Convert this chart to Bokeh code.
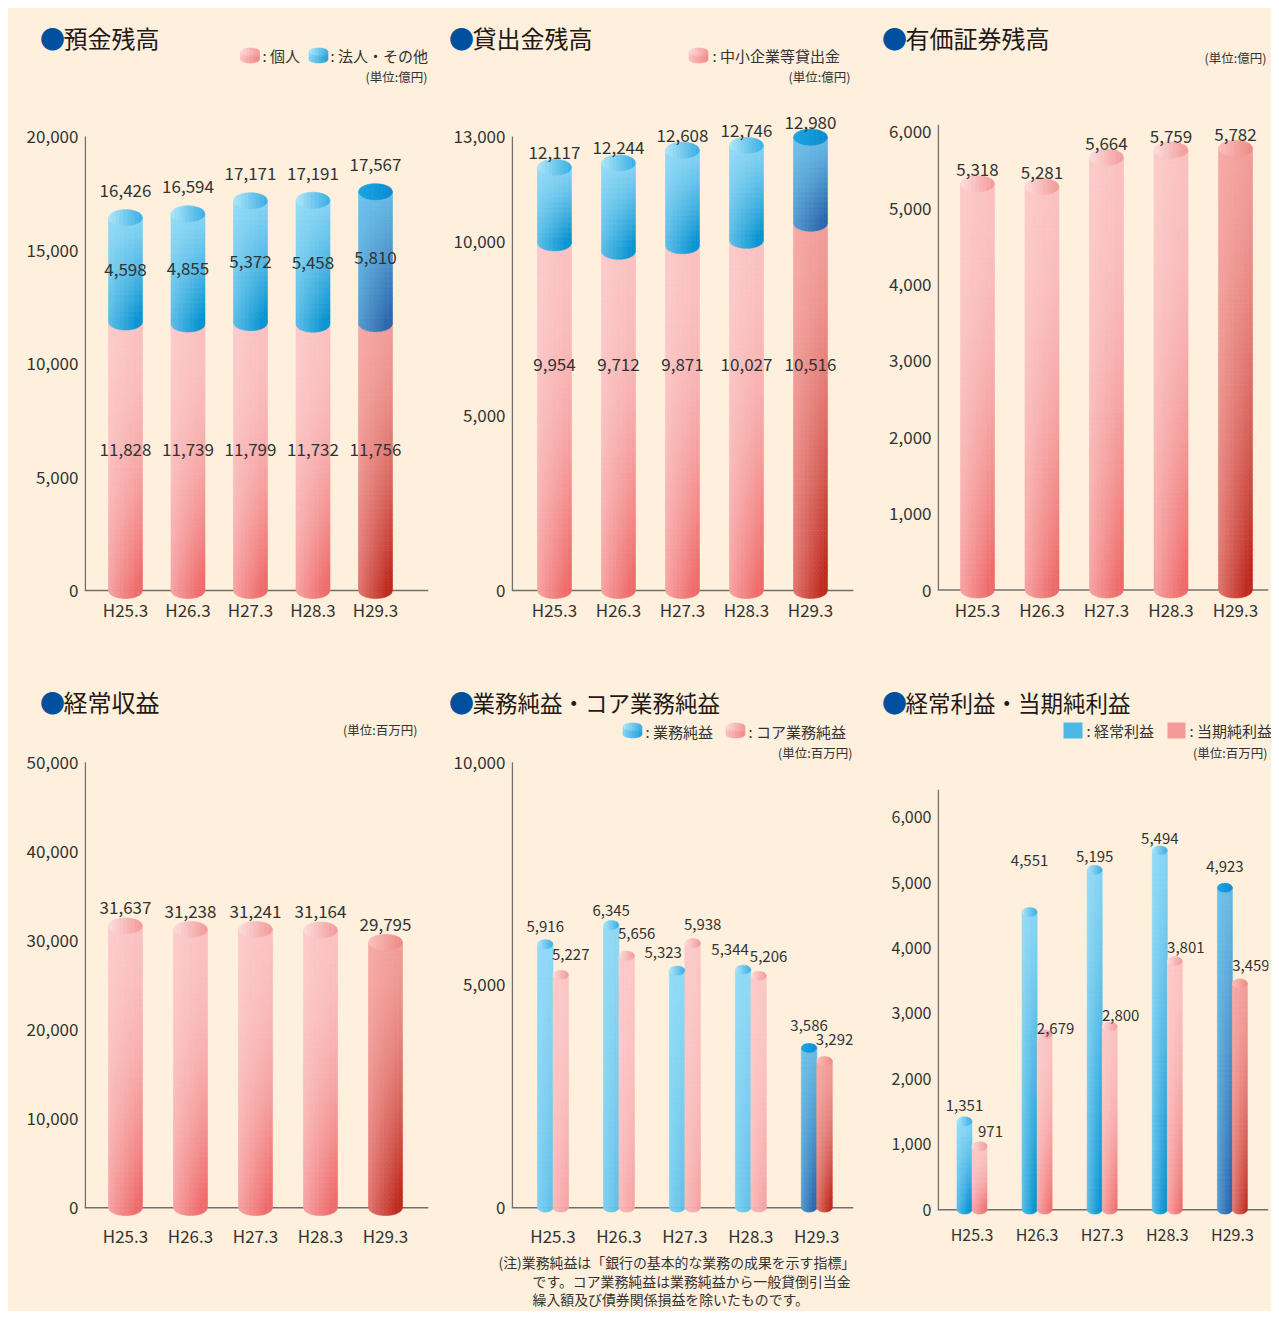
import math
from bokeh.plotting import figure
from bokeh.models import Range1d, FixedTicker, NumeralTickFormatter, Span, ColumnDataSource
from bokeh.layouts import row, column
from bokeh.embed import file_html
from bokeh.resources import INLINE
from bokeh.core.properties import value

# ---------------- data ----------------
periods = ["H25.3", "H26.3", "H27.3", "H28.3", "H29.3"]
dep_individual = [11828, 11739, 11799, 11732, 11756]
dep_corporate = [4598, 4855, 5372, 5458, 5810]
dep_total = [16426, 16594, 17171, 17191, 17567]
loan_sme = [9954, 9712, 9871, 10027, 10516]
loan_total = [12117, 12244, 12608, 12746, 12980]
securities = [5318, 5281, 5664, 5759, 5782]
ordinary_revenue = [31637, 31238, 31241, 31164, 29795]
net_business_profit = [5916, 6345, 5323, 5344, 3586]
core_net_business_profit = [5227, 5656, 5938, 5206, 3292]
ordinary_profit = [1351, 4551, 5195, 5494, 4923]
net_income = [971, 2679, 2800, 3801, 3459]

# ---------------- style ----------------
BG = "#FEF0DC"
TXT = "#333333"
TITLE = "#231815"
DOT = "#0050A0"
AXIS = "#707070"
FONT = "Noto Sans CJK JP"

PINK = ("#FCCBCB", "#EF6B6B", 2.0); PINK_CAP = ("#FDDEDE", "#F39A9A")
PINK_L = ("#F7AAA7", "#BF2A1F", 1.6); PINK_L_CAP = ("#FBC1BF", "#EE8A86")
BLUE = ("#93DBF7", "#0993D2", 1.3); BLUE_CAP = ("#B0E7FA", "#3AAEE4")
BLUE_L = ("#6FC3EB", "#2C66AE", 1.2); BLUE_L_CAP = ("#1AA6E2", "#0A8CD0")


def hx(c):
    c = c.lstrip("#")
    return tuple(int(c[i:i + 2], 16) for i in (0, 2, 4))


def mix(c0, c1, t):
    t = max(0.0, min(1.0, t))
    a, b = hx(c0), hx(c1)
    return "#%02x%02x%02x" % tuple(int(round(a[i] + (b[i] - a[i]) * t)) for i in range(3))


def fmt(v):
    return f"{v:,}"


class Area:
    def init_store(s):
        s.q = dict(left=[], right=[], top=[], bottom=[], color=[])
        s.pt = dict(xs=[], ys=[], color=[])

    def cylinder(s, xc, y0, y1, wpx, hpx, body, cap, strength=1.0, hz=None,
                 top_cap=True, bottom_cap=True, nx=9, ny=None):
        if hz is None:
            hz = 0.12 * strength
        c0, c1, gexp = body
        wd = s.dx(wpx)
        a = wd / 2.0
        b = s.dy(hpx) / 2.0
        if ny is None:
            ny = max(3, int(abs(y1 - y0) / s.dy(1.0) / 5))

        def ell(x):
            r = (x - xc) / a
            return math.sqrt(max(0.0, 1 - r * r))

        for i in range(nx):
            u = (i + 0.5) / nx
            xa = xc - a + i * wd / nx
            xb = xa + wd / nx
            pts = [xa + (xb - xa) * m / 4.0 for m in range(5)]
            last_col = None
            for j in range(ny):
                v = (j + 0.5) / ny
                t = strength * (v ** gexp) * (0.4 + 0.6 * u) + hz * u
                yt = y1 - (y1 - y0) * j / ny
                yb = y1 - (y1 - y0) * (j + 1) / ny
                col = mix(c0, c1, t)
                last_col = col
                s.q["left"].append(xa)
                s.q["right"].append(xb)
                s.q["top"].append(yt)
                s.q["bottom"].append(yb)
                s.q["color"].append(col)
            if bottom_cap:
                s.pt["xs"].append([xa, xb] + pts[::-1])
                s.pt["ys"].append([y0, y0] + [y0 - b * ell(x) for x in pts[::-1]])
                s.pt["color"].append(last_col)
            if top_cap:
                s.pt["xs"].append(pts + pts[::-1])
                s.pt["ys"].append([y1 + b * ell(x) for x in pts] + [y1 - b * ell(x) for x in pts[::-1]])
                s.pt["color"].append(mix(cap[0], cap[1], u))

    def draw_shapes(s):
        s.p.quad(source=ColumnDataSource(s.q), left="left", right="right", top="top", bottom="bottom",
                 fill_color="color", line_color="color", line_width=0.6)
        s.p.patches(source=ColumnDataSource(s.pt), xs="xs", ys="ys",
                    fill_color="color", line_color="color", line_width=0.6)

    def text_at(s, ax, ay, text, size, color=TXT, align="left"):
        s.p.text(x=[s.X(ax)], y=[s.Y(ay)], text=[text], text_font=value(FONT), text_font_size=size,
                 text_color=color, text_align=align, text_baseline="middle")

    def title(s, dot_x, ay, text, size="24px"):
        s.text_at(dot_x - 2.5, ay, "●", "25px", color=DOT)
        s.text_at(dot_x + 21, ay, text, size, color=TITLE)


class Strip(Area):
    """Full-width band (titles, legends, notes) in page pixel coordinates."""

    def __init__(s, x0, y0, x1, y1):
        s.p = figure(width=x1 - x0, height=y1 - y0, x_range=Range1d(x0, x1), y_range=Range1d(-y1, -y0),
                     output_backend="svg", toolbar_location=None, x_axis_location=None,
                     y_axis_location=None, min_border=0, min_border_left=0, min_border_right=0,
                     min_border_top=0, min_border_bottom=0,
                     background_fill_color=BG, border_fill_color=BG, outline_line_color=None)
        s.p.grid.visible = False
        s.init_store()

    def X(s, ax):
        return ax

    def Y(s, ay):
        return -ay

    def dx(s, px):
        return px

    def dy(s, px):
        return px


class Chart(Area):
    def __init__(s, fig_box, frame_box, c0, sp, z, k, yticks, yaxis_top,
                 tick_fs="17px", xlab_fs="17px", xstand=2):
        FL, FT, FR, FB = fig_box
        L, T, R, B = frame_box
        s.L, s.T, s.R, s.B = L, T, R, B
        s.c0, s.sp, s.z, s.k = c0, sp, z, k
        s.xs = (L - c0) / sp
        s.xe = (R - c0) / sp
        s.ys = -(B - z) / k
        s.ye = (z - T) / k
        s.yaxis_top = yaxis_top
        p = figure(width=FR - FL, height=FB - FT,
                   x_range=Range1d(s.xs, s.xe), y_range=Range1d(s.ys, s.ye),
                   output_backend="svg", toolbar_location=None,
                   min_border_left=L - FL, min_border_right=FR - R,
                   min_border_top=T - FT, min_border_bottom=FB - B,
                   background_fill_color=BG, border_fill_color=BG,
                   outline_line_color=None)
        p.grid.visible = False
        ya = p.yaxis[0]
        ya.ticker = FixedTicker(ticks=yticks, minor_ticks=[])
        ya.formatter = NumeralTickFormatter(format="0,0")
        xa = p.xaxis[0]
        xa.ticker = FixedTicker(ticks=list(range(len(periods))), minor_ticks=[])
        xa.major_label_overrides = {i: periods[i] for i in range(len(periods))}
        for ax_, fs in ((ya, tick_fs), (xa, xlab_fs)):
            ax_.axis_line_color = None
            ax_.major_tick_line_color = None
            ax_.minor_tick_line_color = None
            ax_.major_tick_out = 0
            ax_.major_tick_in = 0
            ax_.minor_tick_out = 0
            ax_.major_label_text_font = FONT
            ax_.major_label_text_font_size = fs
            ax_.major_label_text_color = TXT
        ya.major_label_standoff = 6
        xa.major_label_standoff = xstand
        s.p = p
        s.init_store()

    def X(s, ax):
        return s.xs + (ax - s.L) / s.sp

    def Y(s, ay):
        return (s.z - ay) / s.k

    def dx(s, px):
        return px / s.sp

    def dy(s, px):
        return px / s.k

    def draw_bars(s):
        xax = s.xs + s.dx(0.8)
        s.p.segment(x0=[xax], y0=[0], x1=[xax], y1=[s.yaxis_top], line_color=AXIS, line_width=1.5)
        s.p.add_layout(Span(location=0, dimension="width", line_color=AXIS, line_width=1.5, level="underlay"))
        s.draw_shapes()

    def texts(s, xs, ys, labels, size, dys):
        src = ColumnDataSource(dict(x=xs, y=ys, t=labels, yo=[-d for d in dys]))
        s.p.text(x="x", y="y", text="t", y_offset="yo", source=src,
                 text_font=value(FONT), text_font_size=size, text_color=TXT,
                 text_align="center", text_baseline="middle")


n = len(periods)
idx = list(range(n))

# ---------------- header strip, row 1 ----------------
H1 = Strip(8, 8, 1271, 110)
H1.cylinder(249.5, -59, -51, 19, 7, PINK, PINK_CAP, strength=0.3, hz=0.5, nx=6, ny=3)
H1.cylinder(318, -59, -51, 19, 7, BLUE, BLUE_CAP, strength=0.3, hz=0.6, nx=6, ny=3)
H1.cylinder(698, -59, -51, 19, 7, PINK, PINK_CAP, strength=0.3, hz=0.5, nx=6, ny=3)
H1.draw_shapes()
H1.title(42, 37, "預金残高")
H1.title(451, 37, "貸出金残高")
H1.title(884, 37, "有価証券残高")
H1.text_at(262, 55, ": 個人", "15px")
H1.text_at(330, 55, ": 法人・その他", "15px")
H1.text_at(427, 76, "(単位:億円)", "12.5px", align="right")
H1.text_at(712, 55, ": 中小企業等貸出金", "15px")
H1.text_at(850, 76, "(単位:億円)", "12.5px", align="right")
H1.text_at(1266, 57, "(単位:億円)", "12.5px", align="right")

# ---------------- panel A: 預金残高 ----------------
A = Chart((8, 110, 440, 650), (84, 110, 428, 600), 125, 62.5, 590, 454 / 20000,
          [0, 5000, 10000, 15000, 20000], 20000, xstand=-4)
for i in idx:
    last = i == n - 1
    A.cylinder(i, 0, dep_individual[i], 34, 16, PINK_L if last else PINK,
               PINK_L_CAP if last else PINK_CAP, top_cap=False)
    A.cylinder(i, dep_individual[i], dep_total[i], 34, 16, BLUE_L if last else BLUE,
               BLUE_L_CAP if last else BLUE_CAP, top_cap=True)
A.draw_bars()
A.texts(idx, dep_total, [fmt(v) for v in dep_total], "17px", [27] * n)
A.texts(idx, [(dep_individual[i] + dep_total[i]) / 2 for i in idx], [fmt(v) for v in dep_corporate], "17px", [0] * n)
A.texts(idx, [A.Y(449)] * n, [fmt(v) for v in dep_individual], "17px", [0] * n)

# ---------------- panel B: 貸出金残高 ----------------
B = Chart((440, 110, 870, 650), (511, 110, 853, 600), 554, 64, 590, 454 / 13000,
          [0, 5000, 10000, 13000], 13000, xstand=-4)
for i in idx:
    last = i == n - 1
    B.cylinder(i, 0, loan_sme[i], 34, 16, PINK_L if last else PINK,
               PINK_L_CAP if last else PINK_CAP, top_cap=False)
    B.cylinder(i, loan_sme[i], loan_total[i], 34, 16, BLUE_L if last else BLUE,
               BLUE_L_CAP if last else BLUE_CAP, top_cap=True)
B.draw_bars()
B.texts(idx, loan_total, [fmt(v) for v in loan_total], "17px", [15] * n)
B.texts(idx, [B.Y(364)] * n, [fmt(v) for v in loan_sme], "17px", [0] * n)

# ---------------- panel C: 有価証券残高 ----------------
C = Chart((870, 110, 1271, 650), (937, 110, 1268, 600), 977, 64.5, 589.5, 0.0764,
          [0, 1000, 2000, 3000, 4000, 5000, 6000], 6090, xstand=-4)
for i in idx:
    last = i == n - 1
    C.cylinder(i, 0, securities[i], 34, 16, PINK_L if last else PINK, PINK_L_CAP if last else PINK_CAP)
C.draw_bars()
C.texts(idx, securities, [fmt(v) for v in securities], "17px", [14] * n)

# ---------------- header strip, row 2 ----------------
H2 = Strip(8, 650, 1271, 742)
H2.cylinder(632, -734, -726, 19, 7, BLUE, BLUE_CAP, strength=0.3, hz=0.6, nx=6, ny=3)
H2.cylinder(735, -734, -726, 19, 7, PINK, PINK_CAP, strength=0.3, hz=0.5, nx=6, ny=3)
H2.draw_shapes()
H2.p.quad(left=[1063, 1167], right=[1082, 1185], top=[-722, -722], bottom=[-738, -738],
          fill_color=["#4DB8E8", "#F49A9A"], line_color=None)
H2.title(42, 701, "経常収益")
H2.title(451, 701, "業務純益・コア業務純益", size="22.5px")
H2.title(884, 701, "経常利益・当期純利益", size="22.5px")
H2.text_at(417, 729, "(単位:百万円)", "12.5px", align="right")
H2.text_at(645, 731, ": 業務純益", "15px")
H2.text_at(748, 731, ": コア業務純益", "15px")
H2.text_at(1086, 730, ": 経常利益", "15px")
H2.text_at(1189, 730, ": 当期純利益", "15px")

# ---------------- panel D: 経常収益 ----------------
D = Chart((8, 742, 440, 1250), (84, 742, 428, 1225), 125, 65, 1215, 453 / 50000,
          [0, 10000, 20000, 30000, 40000, 50000], 50000, xstand=5)
for i in idx:
    last = i == n - 1
    D.cylinder(i, 0, ordinary_revenue[i], 34, 16, PINK_L if last else PINK, PINK_L_CAP if last else PINK_CAP)
D.draw_bars()
D.texts(idx, ordinary_revenue, [fmt(v) for v in ordinary_revenue], "17px", [18] * n)

# ---------------- panel E: 業務純益・コア業務純益 ----------------
E = Chart((440, 742, 870, 1250), (511, 742, 853, 1225), 552.5, 65.95, 1215, 453 / 10000,
          [0, 5000, 10000], 10000, xstand=5)
e_off = E.dx(7.75)
for i in idx:
    last = i == n - 1
    E.cylinder(i - e_off, 0, net_business_profit[i], 15.5, 9, BLUE_L if last else BLUE,
               BLUE_L_CAP if last else BLUE_CAP, strength=1.0 if last else 0.35, nx=6)
    E.cylinder(i + e_off, 0, core_net_business_profit[i], 15.5, 9, PINK_L if last else PINK,
               PINK_L_CAP if last else PINK_CAP, strength=1.0 if last else 0.4, nx=6)
E.draw_bars()
e_blue_dx = [0, 0, -14, -13, 0]
E.texts([i - e_off + E.dx(e_blue_dx[i]) for i in idx], net_business_profit,
        [fmt(v) for v in net_business_profit], "15px", [18, 14, 18, 20, 22])
E.texts([i + e_off + E.dx(10) for i in idx], core_net_business_profit,
        [fmt(v) for v in core_net_business_profit], "15px", [20, 22, 19, 19, 22])
E.text_at(852, 752, "(単位:百万円)", "12.5px", align="right")

# ---------------- panel F: 経常利益・当期純利益 ----------------
F = Chart((870, 742, 1271, 1250), (937, 742, 1268, 1225), 971.5, 65.1, 1217, 0.0665,
          [0, 1000, 2000, 3000, 4000, 5000, 6000], 6420, tick_fs="16px", xlab_fs="16px", xstand=4)
f_off = F.dx(7.5)
for i in idx:
    last = i == n - 1
    F.cylinder(i - f_off, 0, ordinary_profit[i], 15, 9, BLUE_L if last else BLUE,
               BLUE_L_CAP if last else BLUE_CAP, strength=1.0, nx=6)
    F.cylinder(i + f_off, 0, net_income[i], 15, 9, PINK_L if last else PINK,
               PINK_L_CAP if last else PINK_CAP, strength=0.9, nx=6)
F.draw_bars()
F.texts([i - f_off for i in idx], ordinary_profit, [fmt(v) for v in ordinary_profit], "15px",
        [16, 52, 13, 12, 21])
F.texts([i + f_off + F.dx(11) for i in idx], net_income, [fmt(v) for v in net_income], "15px",
        [15, 6, 11, 14, 18])
F.text_at(1267, 752, "(単位:百万円)", "12.5px", align="right")

# ---------------- footer strip (note) ----------------
N = Strip(8, 1250, 1271, 1311)
N.text_at(498, 1261, "(注)業務純益は「銀行の基本的な業務の成果を示す指標」", "13.9px")
N.text_at(532, 1280, "です。コア業務純益は業務純益から一般貸倒引当金", "13.9px")
N.text_at(532, 1298, "繰入額及び債券関係損益を除いたものです。", "13.9px")

layout = column(H1.p, row(A.p, B.p, C.p, styles={"background-color": BG}), H2.p,
                row(D.p, E.p, F.p, styles={"background-color": BG}), N.p,
                margin=(8, 0, 0, 8), styles={"background-color": BG})
open("out.html", "w").write(file_html(layout, INLINE))
